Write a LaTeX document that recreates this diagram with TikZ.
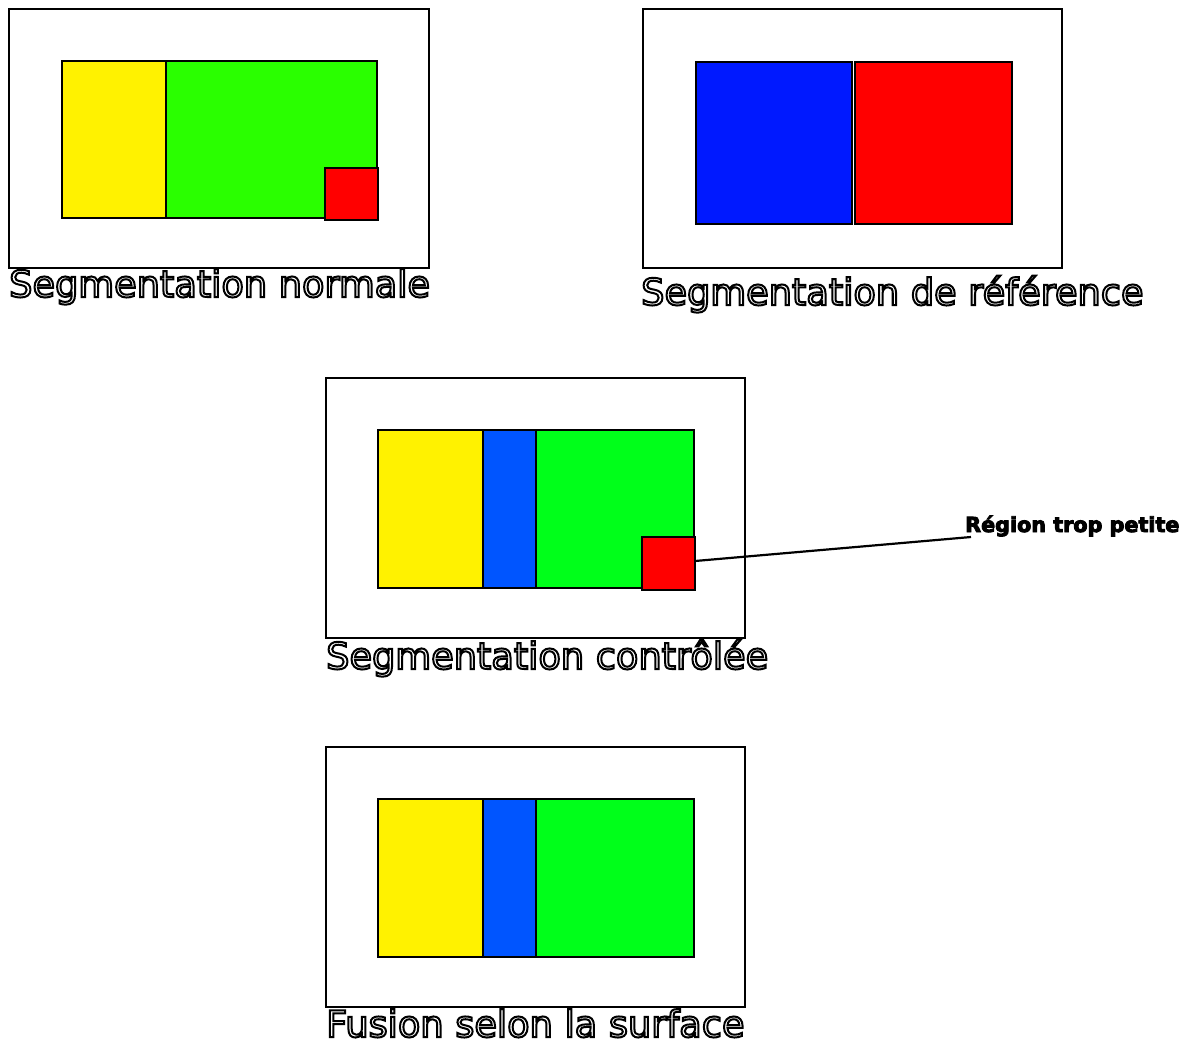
\documentclass[tikz,border=0pt]{standalone}
\usepackage{fontspec}
\setmainfont{DejaVu Sans}
\definecolor{cyel}{HTML}{FFF200}
\definecolor{cgreenA}{HTML}{2AFF00}
\definecolor{cgreenB}{HTML}{00FF1A}
\definecolor{cblueA}{HTML}{0019FF}
\definecolor{cblueB}{HTML}{0055FF}
\definecolor{cred}{HTML}{FF0000}
\newcommand{\outl}[1]{\special{pdf:literal direct 2 Tr 2.0 w 1 g 0 G}#1\special{pdf:literal direct 0 Tr 0 g 0 G}}
\newcommand{\heavy}[1]{\special{pdf:literal direct 2 Tr 0.9 w 0 g 0 G}#1\special{pdf:literal direct 0 Tr 0 g 0 G}}
\begin{document}
\begin{tikzpicture}[x=1pt,y=-1pt,
  rbox/.style={draw=black, line width=2.2pt, inner sep=0pt, outer sep=0pt, rectangle},
  caption/.style={anchor=base west, inner sep=0pt, font=\fontsize{36.7}{40}\selectfont},
  note/.style={anchor=base west, inner sep=0pt, font=\bfseries\fontsize{20.7}{24}\selectfont}]
\useasboundingbox (0,0) rectangle (1191,1047);
% panel 1
\node[rbox, minimum width=420pt, minimum height=259pt] (p1) at (219,138.5) {};
\node[rbox, fill=cyel, minimum width=104pt, minimum height=157pt] (y1) at (114,139.5) {};
\node[rbox, fill=cgreenA, minimum width=211pt, minimum height=157pt] (g1) at (271.5,139.5) {};
\node[rbox, fill=cred, minimum width=53pt, minimum height=52pt] (r1) at (351.5,194) {};
\node[caption] (t1) at (9,297) {\outl{Segmentation normale}};
% panel 2
\node[rbox, minimum width=419pt, minimum height=259pt] (p2) at (852.5,138.5) {};
\node[rbox, fill=cblueA, minimum width=156pt, minimum height=162pt] (b2) at (774,143) {};
\node[rbox, fill=cred, minimum width=157pt, minimum height=162pt] (r2) at (933.5,143) {};
\node[caption] (t2) at (641,305) {\outl{Segmentation de référence}};
% panel 3
\node[rbox, minimum width=419pt, minimum height=260pt] (p3) at (535.5,508) {};
\node[rbox, fill=cyel, minimum width=105pt, minimum height=158pt] (y3) at (430.5,509) {};
\node[rbox, fill=cblueB, minimum width=53pt, minimum height=158pt] (b3) at (509.5,509) {};
\node[rbox, fill=cgreenB, minimum width=158pt, minimum height=158pt] (g3) at (615,509) {};
\node[rbox, fill=cred, minimum width=53pt, minimum height=53pt] (r3) at (668.5,563.5) {};
\node[caption] (t3) at (326,669) {\outl{Segmentation contrôlée}};
\node[note] (lbl) at (965,532) {\heavy{Région trop petite}};
\coordinate (lblend) at (971,537);
\draw[line width=2.2pt] ([yshift=2.5pt]r3.east) -- (lblend);
% panel 4
\node[rbox, minimum width=419pt, minimum height=260pt] (p4) at (535.5,877) {};
\node[rbox, fill=cyel, minimum width=105pt, minimum height=158pt] (y4) at (430.5,878) {};
\node[rbox, fill=cblueB, minimum width=53pt, minimum height=158pt] (b4) at (509.5,878) {};
\node[rbox, fill=cgreenB, minimum width=158pt, minimum height=158pt] (g4) at (615,878) {};
\node[caption] (t4) at (326,1037) {\outl{Fusion selon la surface}};
\end{tikzpicture}
\end{document}
